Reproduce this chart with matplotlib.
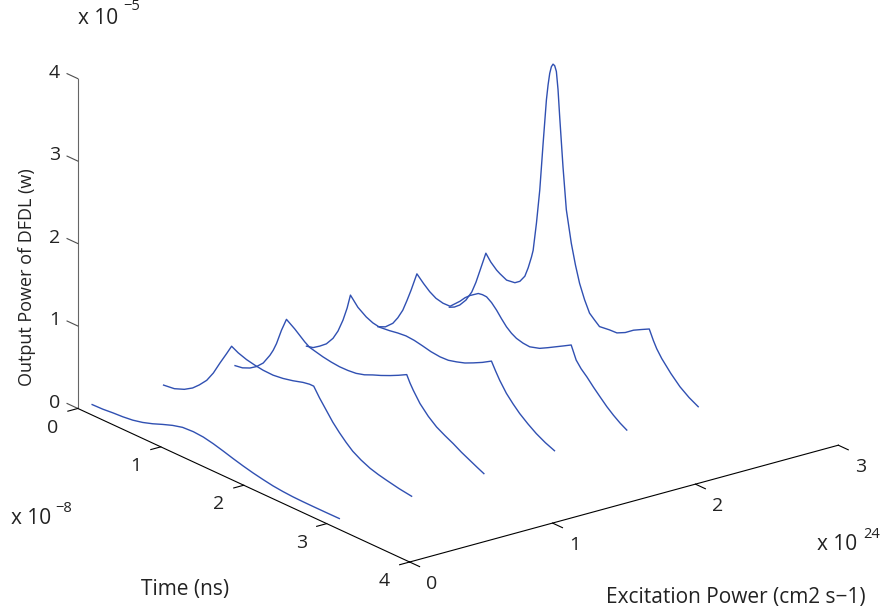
import matplotlib
matplotlib.use('Agg')
import matplotlib.pyplot as plt
import numpy as np

plt.rcParams['font.family'] = ['Open Sans', 'DejaVu Sans']
plt.rcParams['font.size'] = 14

# excitation power of each trace (x 10^24 cm2 s-1)
excitation = [0.1, 0.6, 1.1, 1.6, 2.1, 2.6]

# time (x 10^-8 s) and output power (x 10^-5 w)
time_1 = [0.0, 0.13, 0.25, 0.37, 0.49, 0.61, 0.73, 0.85, 0.97, 1.09, 1.22, 1.34, 1.46,
          1.58, 1.70, 1.82, 1.94, 2.06, 2.18, 2.30, 2.42, 2.54, 2.66, 2.82, 2.98]
power_1 = [0.0, 0.004, 0.016, 0.024, 0.039, 0.067, 0.107, 0.155, 0.199, 0.231, 0.239,
           0.23, 0.205, 0.172, 0.136, 0.103, 0.074, 0.05, 0.029, 0.016, 0.008, 0.005,
           0.004, 0.004, 0.005]

time_2 = [0.0, 0.13, 0.25, 0.35, 0.43, 0.52, 0.60, 0.68, 0.76, 0.82, 0.90, 1.0, 1.10,
          1.20, 1.32, 1.44, 1.56, 1.68, 1.76, 1.81, 1.88, 1.96, 2.04, 2.12, 2.20, 2.28,
          2.38, 2.49, 2.59, 2.69, 2.84, 2.99]
power_2 = [0.0, 0.017, 0.065, 0.128, 0.202, 0.30, 0.426, 0.585, 0.736, 0.853, 0.81,
           0.775, 0.754, 0.739, 0.735, 0.751, 0.779, 0.815, 0.83, 0.83, 0.72, 0.61,
           0.50, 0.41, 0.33, 0.26, 0.20, 0.15, 0.12, 0.097, 0.066, 0.044]

time_3 = [0.0, 0.09, 0.18, 0.26, 0.34, 0.42, 0.46, 0.50, 0.56, 0.62, 0.72, 0.78, 0.84,
          0.90, 0.96, 1.06, 1.16, 1.26, 1.36, 1.46, 1.56, 1.66, 1.76, 1.87, 1.97, 2.07,
          2.11, 2.15, 2.23, 2.33, 2.43, 2.53, 2.63, 2.73, 2.83, 2.92, 3.0]
power_3 = [0.0, 0.015, 0.055, 0.11, 0.19, 0.32, 0.40, 0.50, 0.69, 0.85, 0.78, 0.73,
           0.68, 0.64, 0.625, 0.60, 0.583, 0.573, 0.575, 0.586, 0.615, 0.66, 0.70,
           0.75, 0.80, 0.855, 0.77, 0.70, 0.578, 0.47, 0.387, 0.33, 0.279, 0.22, 0.17,
           0.125, 0.087]

time_4 = [0.0, 0.08, 0.16, 0.24, 0.32, 0.38, 0.44, 0.49, 0.53, 0.62, 0.72, 0.80, 0.88,
          1.0, 1.1, 1.2, 1.3, 1.4, 1.5, 1.61, 1.71, 1.81, 1.91, 2.01, 2.12, 2.23, 2.28,
          2.33, 2.41, 2.49, 2.57, 2.67, 2.77, 2.88, 2.99]
power_4 = [0.0, 0.02, 0.075, 0.14, 0.244, 0.36, 0.52, 0.69, 0.866, 0.76, 0.69, 0.655,
           0.64, 0.654, 0.672, 0.683, 0.675, 0.655, 0.632, 0.62, 0.625, 0.652, 0.685,
           0.733, 0.79, 0.857, 0.76, 0.67, 0.55, 0.46, 0.38, 0.30, 0.23, 0.17, 0.124]

time_5 = [0.0, 0.09, 0.18, 0.24, 0.30, 0.35, 0.40, 0.47, 0.55, 0.625, 0.70, 0.785, 0.87,
          0.99, 1.05, 1.11, 1.21, 1.26, 1.31, 1.37, 1.43, 1.49, 1.55, 1.61, 1.67, 1.75,
          1.83, 1.95, 2.05, 2.15, 2.24, 2.33, 2.39, 2.45, 2.52, 2.60, 2.68, 2.76, 2.84,
          2.92, 3.0]
power_5 = [0.0, 0.04, 0.125, 0.22, 0.34, 0.48, 0.63, 0.86, 0.78, 0.715, 0.67, 0.65,
           0.653, 0.77, 0.84, 0.895, 0.966, 0.975, 0.972, 0.93, 0.867, 0.79, 0.72, 0.67,
           0.636, 0.615, 0.608, 0.645, 0.70, 0.758, 0.81, 0.863, 0.708, 0.63, 0.563,
           0.475, 0.394, 0.315, 0.248, 0.19, 0.143]

time_6 = [0.0, 0.06, 0.125, 0.20, 0.27, 0.32, 0.37, 0.44, 0.50, 0.57, 0.61, 0.69, 0.79,
          0.85, 0.91, 0.95, 0.99, 1.01, 1.05, 1.09, 1.13, 1.17, 1.19, 1.21, 1.23, 1.25,
          1.27, 1.29, 1.31, 1.33, 1.37, 1.41, 1.47, 1.52, 1.57, 1.63, 1.69, 1.75, 1.81,
          1.93, 2.02, 2.12, 2.22, 2.32, 2.41, 2.46, 2.50, 2.56, 2.67, 2.78, 2.89, 3.0]
power_6 = [0.0, 0.03, 0.085, 0.18, 0.31, 0.45, 0.62, 0.86, 0.78, 0.715, 0.69, 0.65,
           0.665, 0.71, 0.80, 0.92, 1.07, 1.16, 1.51, 1.93, 2.51, 3.06, 3.25, 3.40,
           3.49, 3.53, 3.52, 3.46, 3.25, 2.93, 2.34, 1.84, 1.46, 1.22, 1.02, 0.85,
           0.715, 0.66, 0.608, 0.624, 0.629, 0.68, 0.755, 0.81, 0.858, 0.74, 0.66,
           0.57, 0.44, 0.33, 0.25, 0.19]

times = [time_1, time_2, time_3, time_4, time_5, time_6]
powers = [power_1, power_2, power_3, power_4, power_5, power_6]

time_ticks = [0, 1, 2, 3, 4]
excitation_ticks = [0, 1, 2, 3]
power_ticks = [0, 1, 2, 3, 4]

line_blue = '#3050b2'
text_col = '#222222'

W, H = 883, 616
fig = plt.figure(figsize=(W / 100, H / 100), dpi=100)

# square 3d axes, placed so the box sits like the matlab one
side = 820
ax = fig.add_axes([37 / W, -67 / H, side / W, side / H],
                  projection='3d', proj_type='ortho')
ax.set_box_aspect((544.7, 540, 352.6))
ax.view_init(elev=20.8, azim=-37.5)
ax.set_xlim(0, 4)
ax.set_ylim(0, 3)
ax.set_zlim(0, 4)
ax.set_axis_off()

M = ax.get_proj()


def label_at(x, y, z, s, **kw):
    # project a 3d point and put a flat text there
    v = M @ np.array([x, y, z, 1.0])
    ax.text2D(v[0] / v[3], v[1] / v[3], s, transform=ax.transData,
              ha='center', va='center', color=text_col, **kw)


# traces: time on x, excitation on y, power on z
for e, t, p in zip(excitation, times, powers):
    ax.plot(t, [e] * len(t), p, color=line_blue, lw=1.0)

# the three axis lines matlab draws when the box is off
ax.plot([0, 0], [0, 0], [0, 4], color='0.4', lw=0.8)
ax.plot([0, 4], [0, 0], [0, 0], color='k', lw=0.8)
ax.plot([4, 4], [0, 3], [0, 0], color='k', lw=0.8)

for z in power_ticks:
    ax.plot([0, -0.13], [0, 0], [z, z], color='0.3', lw=0.8)
    label_at(-0.28, 0, z - 0.06, str(z))

for t in time_ticks:
    ax.plot([t, t], [0, -0.07], [0, 0], color='k', lw=0.8)
    label_at(t, -0.175, -0.15, str(t))

for e in excitation_ticks:
    ax.plot([4, 4.12], [e, e], [0, 0], color='k', lw=0.8)
    label_at(4.265, e, -0.14, str(e))

# axis titles and the x 10^n multipliers
fig.text(27 / W, 1 - 277 / H, 'Output Power of DFDL (w)', rotation=90, fontsize=13,
         ha='center', va='center', color=text_col)
fig.text(185 / W, 1 - 589 / H, 'Time (ns)', fontsize=15,
         ha='center', va='center', color=text_col)
fig.text(736 / W, 1 - 597 / H, 'Excitation Power (cm2 s\u22121)', fontsize=15,
         ha='center', va='center', color=text_col)

fig.text(98 / W, 1 - 19 / H, 'x 10', fontsize=15, ha='center', va='center', color=text_col)
fig.text(132 / W, 1 - 6 / H, '\u22125', fontsize=10.5, ha='center', va='center', color=text_col)
fig.text(31 / W, 1 - 518 / H, 'x 10', fontsize=15, ha='center', va='center', color=text_col)
fig.text(64 / W, 1 - 508 / H, '\u22128', fontsize=10.5, ha='center', va='center', color=text_col)
fig.text(837 / W, 1 - 545 / H, 'x 10', fontsize=15, ha='center', va='center', color=text_col)
fig.text(872 / W, 1 - 535 / H, '24', fontsize=10.5, ha='center', va='center', color=text_col)

fig.savefig('out.png', dpi=100)
